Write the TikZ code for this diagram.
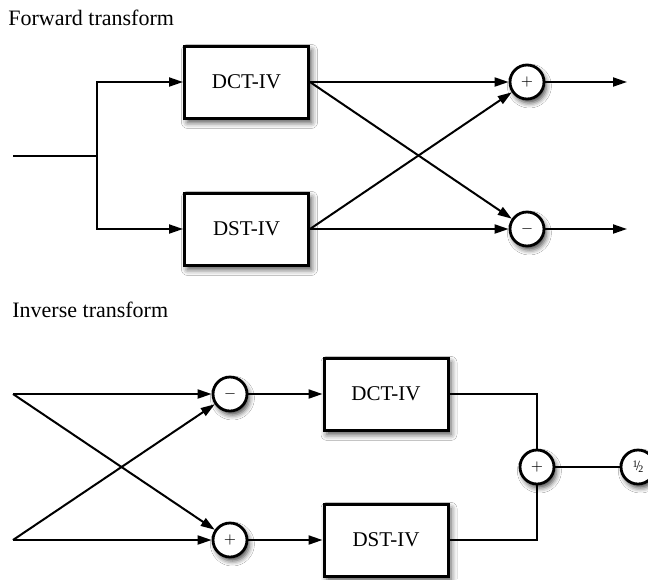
\documentclass[tikz,border=0pt]{standalone}
\usepackage{fontspec}
\setmainfont{Liberation Serif}
\usetikzlibrary{arrows.meta,positioning,shadows.blur}

\tikzset{
  blockbox/.style={draw, line width=1.5pt, fill=white, minimum width=62pt, minimum height=36pt,
    inner sep=0pt, font=\fontsize{10.5}{12}\selectfont,
    blur shadow={shadow xshift=1.5pt, shadow yshift=-2.2pt, shadow blur radius=3pt, shadow opacity=70}},
  sumnode/.style={draw, circle, line width=1.4pt, fill=white, minimum size=17pt, inner sep=0pt,
    font=\scriptsize,
    blur shadow={shadow xshift=1.2pt, shadow yshift=-2pt, shadow blur radius=2.5pt, shadow opacity=70}},
  sig/.style={line width=1pt, -{Triangle[length=7pt,width=4.5pt]}},
  wire/.style={line width=1pt},
  heading/.style={anchor=base west, inner sep=0pt, font=\fontsize{11}{13}\selectfont}
}

\begin{document}
\begin{tikzpicture}[x=0.5pt, y=-0.5pt]
  \useasboundingbox[fill=white] (0,0) rectangle (648,579);
  % forward transform
  \node[heading] (titleF) at (8,25) {Forward transform};
  \coordinate (inF) at (13,156);
  \coordinate (splitF) at (97,156);
  \node[blockbox] (dctF) at (246.5,82) {DCT-IV};
  \node[blockbox] (dstF) at (246.5,229) {DST-IV};
  \node[sumnode] (plusF) at (527,82) {$+$};
  \node[sumnode] (minusF) at (527,229) {$-$};
  \coordinate (outP) at (627,82);
  \coordinate (outM) at (627,229);
  \draw[wire] (inF) -- (splitF);
  \draw[sig] (splitF) |- (dctF.west);
  \draw[sig] (splitF) |- (dstF.west);
  \draw[sig] (dctF.east) -- (plusF);
  \draw[sig] (dctF.east) -- (minusF);
  \draw[sig] (dstF.east) -- (plusF);
  \draw[sig] (dstF.east) -- (minusF);
  \draw[sig] (plusF) -- (outP);
  \draw[sig] (minusF) -- (outM);
  % inverse transform
  \node[heading] (titleI) at (12,317) {Inverse transform};
  \coordinate (inA) at (13,394);
  \coordinate (inB) at (13,540);
  \node[sumnode] (minusI) at (230,394) {$-$};
  \node[sumnode] (plusI) at (230,540) {$+$};
  \node[blockbox] (dctI) at (386,394) {DCT-IV};
  \node[blockbox] (dstI) at (386,540) {DST-IV};
  \node[sumnode] (sumI) at (537,467) {$+$};
  \node[sumnode] (halfI) at (638,467) {\raisebox{0.45ex}{\tiny 1}\kern-0.12em/\kern-0.12em\raisebox{-0.35ex}{\tiny 2}};
  \draw[sig] (inA) -- (minusI);
  \draw[sig] (inA) -- (plusI);
  \draw[sig] (inB) -- (minusI);
  \draw[sig] (inB) -- (plusI);
  \draw[sig] (minusI) -- (dctI);
  \draw[sig] (plusI) -- (dstI);
  \draw[wire] (dctI.east) -| (sumI);
  \draw[wire] (dstI.east) -| (sumI);
  \draw[wire] (sumI) -- (halfI);
\end{tikzpicture}
\end{document}
